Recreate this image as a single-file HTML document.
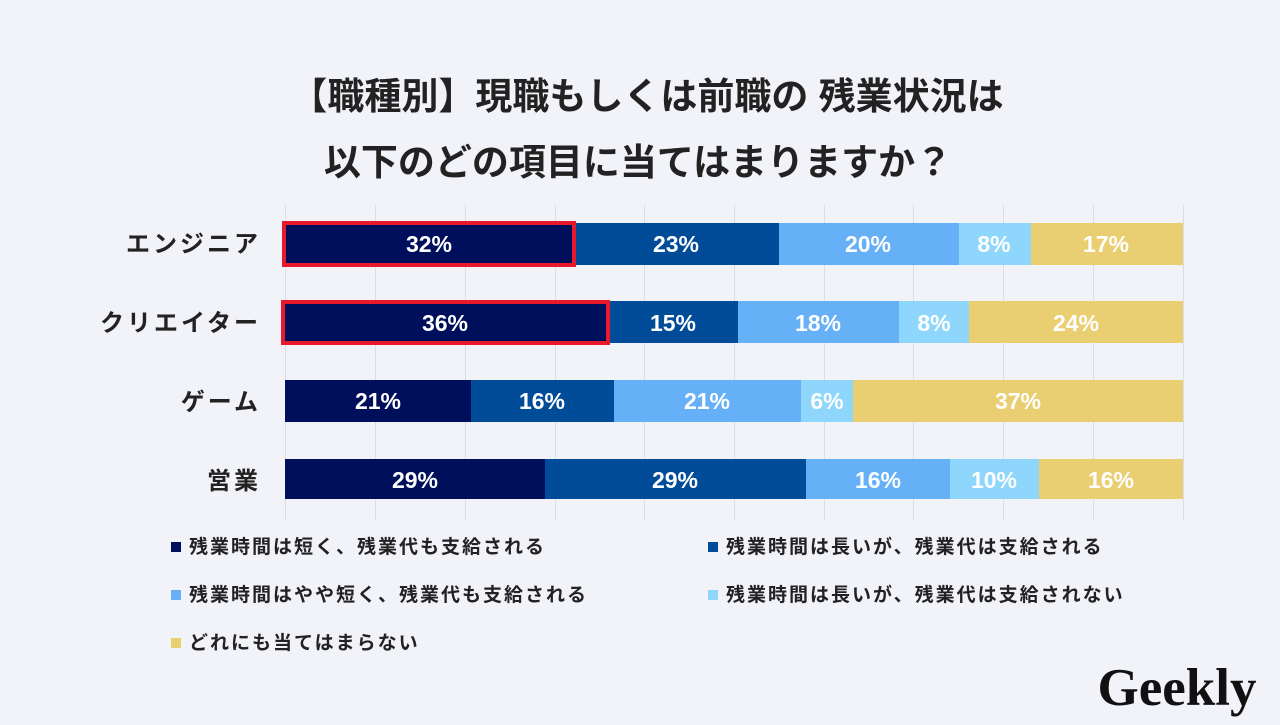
<!DOCTYPE html>
<html><head><meta charset="utf-8"><style>
body{margin:0;width:1280px;height:720px;background:#f2f3f8;overflow:hidden}
svg text{font-family:"Liberation Sans","Noto Sans CJK JP",sans-serif}
</style></head><body>
<svg width="1280" height="720" xmlns="http://www.w3.org/2000/svg">
<rect width="1280" height="720" fill="#f2f3f8"/>
<g font-weight="bold" fill="#222" font-size="37" text-anchor="middle">
<text x="647" y="109">【職種別】現職もしくは前職の 残業状況は</text>
<text x="638" y="175">以下のどの項目に当てはまりますか？</text>
</g>
<g stroke="#dcdde2" stroke-width="1">
<line x1="285.5" y1="205" x2="285.5" y2="520"/><line x1="375.5" y1="205" x2="375.5" y2="520"/>
<line x1="465.5" y1="205" x2="465.5" y2="520"/><line x1="555.5" y1="205" x2="555.5" y2="520"/>
<line x1="644.5" y1="205" x2="644.5" y2="520"/><line x1="734.5" y1="205" x2="734.5" y2="520"/>
<line x1="824.5" y1="205" x2="824.5" y2="520"/><line x1="913.5" y1="205" x2="913.5" y2="520"/>
<line x1="1003.5" y1="205" x2="1003.5" y2="520"/><line x1="1093.5" y1="205" x2="1093.5" y2="520"/>
<line x1="1183.5" y1="205" x2="1183.5" y2="520"/>
</g>
<g font-weight="bold" fill="#222" font-size="24" text-anchor="end" letter-spacing="3">
<text x="261" y="252">エンジニア</text>
<text x="261" y="331">クリエイター</text>
<text x="261" y="410">ゲーム</text>
<text x="261" y="489">営業</text>
</g>
<g>
<rect x="285" y="223" width="290" height="42" fill="#000f5c"/>
<rect x="575" y="223" width="204" height="42" fill="#004c99"/>
<rect x="779" y="223" width="180" height="42" fill="#66b0f8"/>
<rect x="959" y="223" width="72" height="42" fill="#8ed6fb"/>
<rect x="1031" y="223" width="152" height="42" fill="#eace72"/>

<rect x="285" y="301" width="325" height="42" fill="#000f5c"/>
<rect x="610" y="301" width="128" height="42" fill="#004c99"/>
<rect x="738" y="301" width="161" height="42" fill="#66b0f8"/>
<rect x="899" y="301" width="70" height="42" fill="#8ed6fb"/>
<rect x="969" y="301" width="214" height="42" fill="#eace72"/>

<rect x="285" y="380" width="186" height="42" fill="#000f5c"/>
<rect x="471" y="380" width="143" height="42" fill="#004c99"/>
<rect x="614" y="380" width="187" height="42" fill="#66b0f8"/>
<rect x="801" y="380" width="52" height="42" fill="#8ed6fb"/>
<rect x="853" y="380" width="330" height="42" fill="#eace72"/>

<rect x="285" y="459" width="260" height="40" fill="#000f5c"/>
<rect x="545" y="459" width="261" height="40" fill="#004c99"/>
<rect x="806" y="459" width="144" height="40" fill="#66b0f8"/>
<rect x="950" y="459" width="89" height="40" fill="#8ed6fb"/>
<rect x="1039" y="459" width="144" height="40" fill="#eace72"/>
</g>
<rect x="284" y="223" width="290" height="42" fill="none" stroke="#e8192b" stroke-width="4"/>
<rect x="283" y="302" width="325" height="41" fill="none" stroke="#e8192b" stroke-width="4"/>
<g fill="#fff" font-size="23" font-weight="bold" text-anchor="middle">
<text x="429" y="252">32%</text><text x="676" y="252">23%</text><text x="868" y="252">20%</text><text x="994" y="252">8%</text><text x="1106" y="252">17%</text>
<text x="445" y="331">36%</text><text x="673" y="331">15%</text><text x="818" y="331">18%</text><text x="934" y="331">8%</text><text x="1076" y="331">24%</text>
<text x="378" y="409">21%</text><text x="542" y="409">16%</text><text x="707" y="409">21%</text><text x="827" y="409">6%</text><text x="1018" y="409">37%</text>
<text x="415" y="488">29%</text><text x="675" y="488">29%</text><text x="878" y="488">16%</text><text x="994" y="488">10%</text><text x="1111" y="488">16%</text>
</g>
<g font-size="19" font-weight="bold" fill="#222" letter-spacing="2">
<rect x="171" y="542" width="10" height="10" fill="#000f5c"/><text x="189" y="553">残業時間は短く、残業代も支給される</text>
<rect x="708" y="542" width="10" height="10" fill="#004c99"/><text x="726" y="553">残業時間は長いが、残業代は支給される</text>
<rect x="171" y="590" width="10" height="10" fill="#66b0f8"/><text x="189" y="601">残業時間はやや短く、残業代も支給される</text>
<rect x="708" y="590" width="10" height="10" fill="#8ed6fb"/><text x="726" y="601">残業時間は長いが、残業代は支給されない</text>
<rect x="171" y="638" width="10" height="10" fill="#eace72"/><text x="189" y="649">どれにも当てはまらない</text>
</g>
<text x="1177" y="705" text-anchor="middle" font-weight="bold" font-size="53" fill="#111" style="font-family:'Liberation Serif',serif">Geekly</text>
</svg>
</body></html>
